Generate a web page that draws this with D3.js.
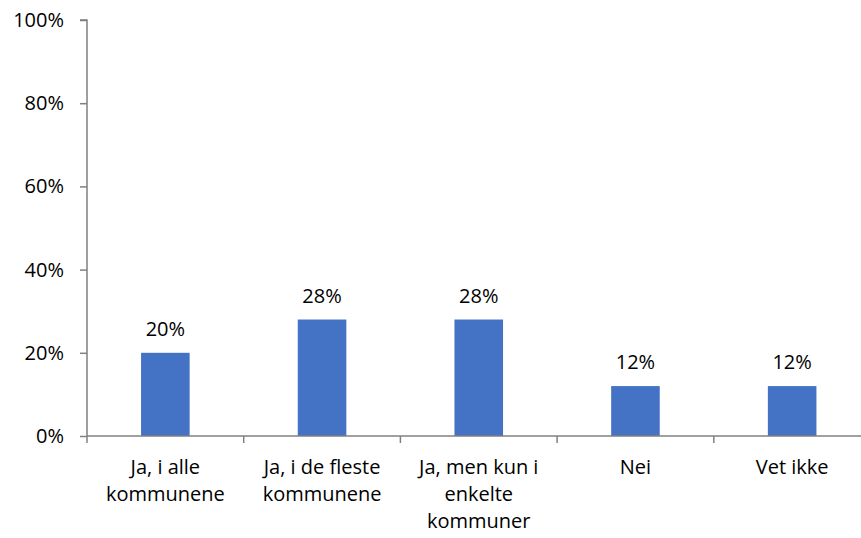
<!DOCTYPE html>
<html>
<head>
<meta charset="utf-8">
<script src="https://cdn.jsdelivr.net/npm/d3@7"></script>
<style>
  html, body { margin: 0; padding: 0; background: #fff; }
  svg { display: block; font-family: "Open Sans", "Noto Sans", sans-serif; }
</style>
</head>
<body>
<svg id="chart" width="861" height="538"></svg>
<script>
const categories = ["Ja, i alle kommunene", "Ja, i de fleste kommunene", "Ja, men kun i enkelte kommuner", "Nei", "Vet ikke"];
const values = [0.20, 0.28, 0.28, 0.12, 0.12];
const valueLabels = ["20%", "28%", "28%", "12%", "12%"];
const yTicks = [0, 0.2, 0.4, 0.6, 0.8, 1.0];
const yTickLabels = ["0%", "20%", "40%", "60%", "80%", "100%"];

const svg = d3.select("#chart");
const fontSize = 20;
const axisColor = "#808080";

const x = d3.scaleBand().domain(categories).range([87, 870.5]).paddingInner(0).paddingOuter(0);
const y = d3.scaleLinear().domain([0, 1]).range([436, 20]);
const barW = x.bandwidth() * 0.31;

// Y axis
const yAxis = svg.append("g").attr("transform", "translate(87,0)")
  .call(d3.axisLeft(y).tickValues(yTicks).tickFormat((d, i) => yTickLabels[i]).tickSize(7).tickPadding(16));
yAxis.select(".domain").attr("stroke", axisColor).attr("stroke-width", 1.5).attr("d", "M-7,20H0V436");
yAxis.selectAll(".tick line").attr("stroke", axisColor).attr("stroke-width", 1.5);
yAxis.selectAll(".tick text").attr("font-size", fontSize).attr("fill", "#000").attr("font-family", "Open Sans");

// Bars
svg.append("g").selectAll("rect").data(categories).join("rect")
  .attr("x", (d) => x(d) + x.bandwidth() / 2 - barW / 2)
  .attr("y", (d, i) => y(values[i]))
  .attr("width", barW)
  .attr("height", (d, i) => y(0) - y(values[i]))
  .attr("fill", "#4472C4");

// Value labels
svg.append("g").selectAll("text").data(categories).join("text")
  .attr("x", (d) => x(d) + x.bandwidth() / 2)
  .attr("y", (d, i) => y(values[i]) - 17)
  .attr("text-anchor", "middle")
  .attr("font-size", fontSize)
  .attr("fill", "#000")
  .text((d, i) => valueLabels[i]);

// X axis
const xAxisG = svg.append("g").attr("transform", "translate(0,436)");
xAxisG.append("line").attr("x1", 87).attr("x2", 861).attr("y1", 0).attr("y2", 0)
  .attr("stroke", axisColor).attr("stroke-width", 1.5);
const boundaries = categories.map(c => x(c)).concat([x.range()[1]]);
xAxisG.selectAll("line.tk").data(boundaries).join("line").attr("class", "tk")
  .attr("x1", d => d).attr("x2", d => d).attr("y1", 0).attr("y2", 7)
  .attr("stroke", axisColor).attr("stroke-width", 1.5);

// Category labels with wrapping
const maxW = 145;
const lab = svg.append("g");
categories.forEach((c) => {
  const t = lab.append("text")
    .attr("x", x(c) + x.bandwidth() / 2)
    .attr("y", 474)
    .attr("text-anchor", "middle")
    .attr("font-size", fontSize)
    .attr("fill", "#000");
  const words = c.split(" ");
  let line = [];
  let tspan = t.append("tspan").attr("x", x(c) + x.bandwidth() / 2).attr("dy", 0);
  words.forEach(w => {
    line.push(w);
    tspan.text(line.join(" "));
    if (tspan.node().getComputedTextLength() > maxW && line.length > 1) {
      line.pop();
      tspan.text(line.join(" "));
      line = [w];
      tspan = t.append("tspan").attr("x", x(c) + x.bandwidth() / 2).attr("dy", 27).text(w);
    }
  });
});
</script>
</body>
</html>
